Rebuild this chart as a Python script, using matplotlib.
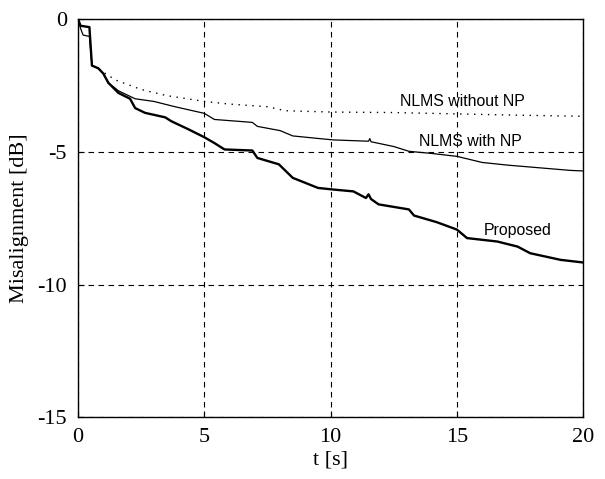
import numpy as np
import matplotlib
matplotlib.use("Agg")
import matplotlib.pyplot as plt

plt.rcParams["axes.unicode_minus"] = False

# Curves (t in s, misalignment in dB)
t_without = [0, 0.1, 0.45, 0.55, 0.8, 1.0, 1.5, 2.5, 3.5, 5, 6, 7.5, 8.2, 10, 12.5, 15, 17.5, 20]
m_without = [0, -0.25, -0.3, -1.75, -1.85, -2.0, -2.3, -2.65, -2.88, -3.1, -3.2, -3.3, -3.45,
             -3.5, -3.52, -3.57, -3.62, -3.66]

t_with = [0, 0.1, 0.2, 0.45, 0.55, 0.8, 1.0, 1.2, 1.6, 2.26, 3.0, 3.84, 5.0, 5.4, 6.9, 7.1,
          8.0, 8.5, 9.55, 10.1, 11.5, 11.55, 11.6, 12.5, 13.1, 14, 15, 16, 17, 18, 19.5, 20]
m_with = [0, -0.35, -0.6, -0.65, -1.75, -1.85, -2.05, -2.4, -2.7, -3.0, -3.1, -3.3, -3.55,
          -3.78, -3.89, -4.04, -4.2, -4.4, -4.5, -4.55, -4.6, -4.5, -4.62, -4.8, -4.98,
          -5.06, -5.17, -5.4, -5.5, -5.58, -5.7, -5.72]

t_prop = [0, 0.1, 0.45, 0.55, 0.8, 1.0, 1.2, 1.6, 2.06, 2.26, 2.65, 3.45, 3.7, 4.37, 5.0,
          5.4, 5.8, 6.9, 7.1, 7.95, 8.5, 9.5, 10.1, 10.9, 11.4, 11.5, 11.6, 11.9, 13.1, 13.3,
          14.2, 15, 15.4, 16.6, 17.4, 17.9, 19.1, 20]
m_prop = [0, -0.25, -0.3, -1.75, -1.85, -2.05, -2.4, -2.78, -3.0, -3.35, -3.53, -3.7, -3.85,
          -4.15, -4.45, -4.67, -4.91, -4.95, -5.23, -5.47, -5.98, -6.36, -6.42, -6.49, -6.74,
          -6.6, -6.78, -6.98, -7.17, -7.4, -7.65, -7.93, -8.25, -8.38, -8.57, -8.82, -9.07,
          -9.17]

xticks = [0, 5, 10, 15, 20]
yticks = [0, -5, -10, -15]

fig = plt.figure(figsize=(6.05, 4.79), dpi=100)
ax = fig.add_axes([0.129, 0.129, 0.835, 0.831])

ax.plot(t_without, m_without, color="black", lw=1.0, linestyle=(0, (1, 4)))
ax.plot(t_with, m_with, color="black", lw=0.9)
ax.plot(t_prop, m_prop, color="black", lw=1.7)

ax.set_xlim(0, 20)
ax.set_ylim(-15, 0)
ax.set_xticks(xticks)
ax.set_yticks(yticks)
ax.grid(True, color="black", lw=0.8, linestyle=(0, (5, 4)))
ax.tick_params(direction="in", length=4, width=0.8, labelsize=16, pad=8)
for lab in ax.get_xticklabels() + ax.get_yticklabels():
    lab.set_family("Liberation Serif")
for s in ax.spines.values():
    s.set_linewidth(1.0)

ax.set_xlabel("t [s]", family="Liberation Serif", fontsize=16, labelpad=2)
ax.set_ylabel("Misalignment [dB]", family="Liberation Serif", fontsize=16, labelpad=6)

ax.text(15.2, -3.09, "NLMS without NP", family="Liberation Sans", fontsize=11.4,
        ha="center", va="center")
ax.text(15.55, -4.6, "NLMS with NP", family="Liberation Sans", fontsize=11.4,
        ha="center", va="center")
ax.text(17.4, -7.96, "Proposed", family="Liberation Sans", fontsize=11.4,
        ha="center", va="center")

plt.savefig("out.png", dpi=100)
